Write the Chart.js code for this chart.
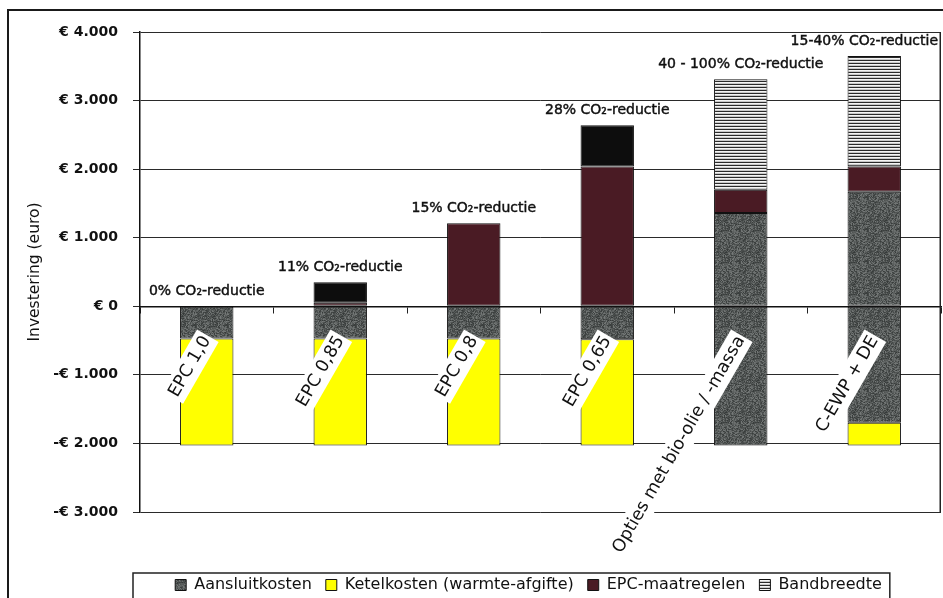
<!DOCTYPE html>
<html lang="nl">
<head>
<meta charset="utf-8">
<title>Investering per variant</title>
<script src="https://cdn.jsdelivr.net/npm/chart.js@4.4.1/dist/chart.umd.min.js"></script>
<style>
  html, body { margin: 0; padding: 0; background: #fff; overflow: hidden; }
  #wrap { position: relative; width: 943px; height: 598px; overflow: hidden; }
  #wrap canvas { position: absolute; left: 0; top: 0; }
  #frame { position: absolute; left: 7px; top: 9px; width: 2000px; height: 2000px;
           border: 2px solid #1a1a1a; pointer-events: none; }
</style>
</head>
<body>
<div id="wrap">
  <canvas id="chart" width="943" height="598"></canvas>
  <div id="frame"></div>
</div>
<script>
// Varianten (categorieën) en de CO2-reductie per variant
const categories = ['EPC 1,0', 'EPC 0,85', 'EPC 0,8', 'EPC 0,65', 'Opties met bio-olie / -massa', 'C-EWP + DE'];
const co2Labels = ['0% CO₂-reductie', '11% CO₂-reductie', '15% CO₂-reductie', '28% CO₂-reductie',
                   '40 - 100% CO₂-reductie', '15-40% CO₂-reductie'];

// Investering in euro; negatieve bedragen zijn vermeden kosten
const aansluitkostenNeg = [-470, -470, -470, -480, -2030, -1700];
const ketelkosten       = [-1560, -1560, -1560, -1550, null, -330];
const aansluitkostenPos = [null, null, null, null, 1360, 1670];
const epcMaatregelen    = [null, 50, 1210, 2040, 340, 370];
const bandbreedte       = [null, 300, null, 600, 1610, 1610];

// Bandbreedte bij de EPC-varianten is effen zwart, bij de overige opties gearceerd
const bandEffen = [false, true, false, true, false, false];

const FONT = '"DejaVu Sans", Verdana, sans-serif';
Chart.defaults.font.family = FONT;
Chart.defaults.color = '#111';

// Vaste hash voor de korrelstructuur van het grijs
function hash(x, y) {
  let h = (x * 374761393 + y * 668265263) | 0;
  h = Math.imul(h ^ (h >>> 13), 1274126177);
  h ^= h >>> 16;
  return (h >>> 0) / 4294967295;
}

// Gespikkeld grijs voor aansluitkosten
function speckle() {
  const n = 32;
  const c = document.createElement('canvas');
  c.width = c.height = n;
  const g = c.getContext('2d');
  for (let y = 0; y < n; y++) {
    for (let x = 0; x < n; x++) {
      const v = Math.round(86 + (hash(x, y) - 0.5) * 64);
      g.fillStyle = `rgb(${v},${v + 4},${v + 3})`;
      g.fillRect(x, y, 1, 1);
    }
  }
  return g.createPattern(c, 'repeat');
}

// Horizontale arcering voor de bandbreedte
function hatch() {
  const c = document.createElement('canvas');
  c.width = 4; c.height = 3;
  const g = c.getContext('2d');
  g.fillStyle = '#f4f4f4'; g.fillRect(0, 0, 4, 3);
  g.fillStyle = '#2a2a2a'; g.fillRect(0, 0, 4, 1);
  g.fillStyle = '#c8c8c8'; g.fillRect(0, 2, 4, 1);
  return g.createPattern(c, 'repeat');
}

const grijs = speckle();
const arcering = hatch();

function euro(v) {
  const s = String(Math.abs(v)).replace(/\B(?=(\d{3})+(?!\d))/g, '.');
  return (v < 0 ? '-€ ' : '€ ') + s;
}

// CO2-teksten boven elke staaf
const co2Plugin = {
  id: 'co2Labels',
  afterDatasetsDraw(chart) {
    const { ctx, chartArea, scales: { x, y } } = chart;
    ctx.save();
    ctx.font = `14px ${FONT}`;
    ctx.fillStyle = '#111';
    ctx.strokeStyle = '#111';
    ctx.lineWidth = 0.45;
    ctx.textAlign = 'center';
    ctx.textBaseline = 'middle';
    co2Labels.forEach((t, i) => {
      let top = 0;
      chart.data.datasets.forEach(ds => { const v = ds.data[i]; if (v > 0) top += v; });
      const w = ctx.measureText(t).width;
      const cx = Math.min(x.getPixelForValue(i), chartArea.right - 3 - w / 2);
      const cy = y.getPixelForValue(top) - 15;
      ctx.fillText(t, cx, cy);
      ctx.strokeText(t, cx, cy);
    });
    ctx.restore();
  }
};

// Legenda iets naar links, rechterrand plotvlak en kader om de legenda
const framePlugin = {
  id: 'frames',
  afterLayout(chart) {
    const lg = chart.legend;
    if (lg) { lg.left -= 12; lg.right -= 12; }
  },
  beforeDatasetsDraw(chart) {
    const { ctx, chartArea: a } = chart;
    ctx.save();
    ctx.strokeStyle = '#222';
    ctx.lineWidth = 1.5;
    ctx.beginPath();
    ctx.moveTo(a.right - 0.75, a.top);
    ctx.lineTo(a.right - 0.75, a.bottom);
    ctx.stroke();
    ctx.restore();
  },
  afterDraw(chart) {
    const { ctx, chartArea } = chart;
    const boxes = chart.legend && chart.legend.legendHitBoxes;
    if (!boxes || !boxes.length) return;
    const first = boxes[0];
    const last = boxes[boxes.length - 1];
    const left = chartArea.left - 7;
    const right = last.left + last.width + 8;
    const top = first.top + first.height / 2 - 12;
    ctx.save();
    ctx.strokeStyle = '#222';
    ctx.lineWidth = 1.5;
    ctx.strokeRect(left, top, right - left, 200);
    ctx.restore();
  }
};

const common = { borderColor: '#111', borderWidth: 1, borderSkipped: false };

new Chart(document.getElementById('chart'), {
  type: 'bar',
  data: {
    labels: categories,
    datasets: [
      { label: 'Aansluitkosten', data: aansluitkostenNeg, backgroundColor: grijs, ...common },
      { label: 'Ketelkosten (warmte-afgifte)', data: ketelkosten, backgroundColor: '#ffff00', ...common },
      { label: 'Aansluitkosten', data: aansluitkostenPos, backgroundColor: grijs, legendHidden: true, ...common },
      { label: 'EPC-maatregelen', data: epcMaatregelen, backgroundColor: '#4a1b24', ...common },
      { label: 'Bandbreedte', data: bandbreedte,
        backgroundColor: c => (c.dataIndex !== undefined && bandEffen[c.dataIndex]) ? '#0d0d0d' : arcering,
        ...common }
    ]
  },
  options: {
    responsive: false,
    animation: false,
    devicePixelRatio: 1,
    barPercentage: 0.4,
    categoryPercentage: 1,
    layout: { padding: { left: 18, top: 32, right: 2, bottom: -5 } },
    plugins: {
      tooltip: { enabled: false },
      legend: {
        position: 'bottom',
        fullSize: false,
        labels: {
          boxWidth: 11, boxHeight: 11, padding: 14, color: '#111',
          font: { size: 16 },
          filter: (item, data) => !data.datasets[item.datasetIndex].legendHidden
        },
        title: { display: true, text: '', font: { size: 10 }, padding: { top: 39, bottom: 0 } }
      }
    },
    scales: {
      x: {
        type: 'category',
        stacked: true,
        position: { y: 0 },
        grid: { display: true, drawOnChartArea: false, drawTicks: true, tickLength: 6, color: '#222', offset: true },
        border: { display: true, color: '#111', width: 1.5 },
        ticks: {
          autoSkip: false, minRotation: 60, maxRotation: 60,
          padding: 20, labelOffset: -9, color: '#111', font: { size: 17.5 },
          showLabelBackdrop: true, backdropColor: '#ffffff', backdropPadding: 2,
          z: 1
        }
      },
      y: {
        stacked: true,
        min: -3000, max: 4000,
        grid: { color: '#2a2a2a', lineWidth: 1, tickLength: 7, drawTicks: true },
        border: { display: true, color: '#111', width: 1.5 },
        ticks: { stepSize: 1000, padding: 15, color: '#111', font: { size: 14, weight: 'bold' }, callback: v => euro(v) },
        title: { display: true, text: 'Investering (euro)', color: '#111', font: { size: 15.5 }, padding: { top: 8, bottom: 0 } },
        afterFit(scale) { scale.width = 122; }
      }
    }
  },
  plugins: [co2Plugin, framePlugin]
});
</script>
</body>
</html>
